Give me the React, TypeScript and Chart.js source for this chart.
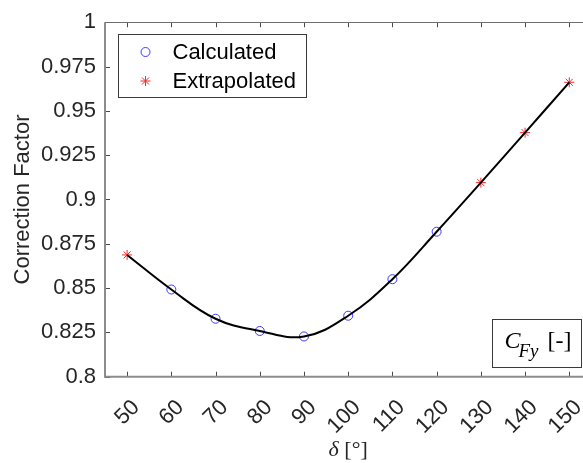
import React, { useEffect, useRef } from 'react';
import { Chart, registerables } from 'chart.js';

Chart.register(...registerables);

// ---- data ----
const xTickValues = [50, 60, 70, 80, 90, 100, 110, 120, 130, 140, 150];
const yTickValues = [0.8, 0.825, 0.85, 0.875, 0.9, 0.925, 0.95, 0.975, 1];
const calculatedDelta = [60, 70, 80, 90, 100, 110, 120];
const calculatedFactor = [0.8492, 0.8327, 0.8258, 0.8227, 0.8344, 0.855, 0.8818];
const extrapolatedDelta = [50, 130, 140, 150];
const extrapolatedFactor = [0.8687, 0.9095, 0.9377, 0.9661];
const legendLabels = ['Calculated', 'Extrapolated'];
const yTitle = 'Correction Factor';
const xTitleSymbol = 'δ';
const xTitleUnit = ' [°]';
const boxSymbol = 'C';
const boxSubscript = 'Fy';
const boxUnit = '[-]';

const SANS = '"Liberation Sans", Arial, Helvetica, sans-serif';
const SERIF = '"Liberation Serif", "Times New Roman", serif';

const drawCircle = (ctx: CanvasRenderingContext2D, x: number, y: number, r: number, color: string) => {
  ctx.beginPath();
  ctx.arc(x, y, r, 0, Math.PI * 2);
  ctx.strokeStyle = color;
  ctx.lineWidth = 1;
  ctx.stroke();
};

const drawStar = (ctx: CanvasRenderingContext2D, x: number, y: number, r: number, color: string) => {
  ctx.beginPath();
  ctx.strokeStyle = color;
  ctx.lineWidth = 1;
  for (let k = 0; k < 4; k++) {
    const ang = (k * Math.PI) / 4;
    ctx.moveTo(x - r * Math.cos(ang), y - r * Math.sin(ang));
    ctx.lineTo(x + r * Math.cos(ang), y + r * Math.sin(ang));
  }
  ctx.stroke();
};

const CIRCLE_COLOR = 'rgba(50,50,255,0.95)';
const STAR_COLOR = 'rgba(255,30,30,0.95)';

const decorPlugin = {
  id: 'decor',
  afterDraw(chart: any) {
    const { ctx, chartArea: a, scales } = chart;
    const xs = scales.x;
    const ys = scales.y;
    ctx.save();

    // ticks (inward)
    ctx.strokeStyle = '#4a4a4a';
    ctx.lineWidth = 1;
    ctx.beginPath();
    xTickValues.forEach((v) => {
      const px = Math.round(xs.getPixelForValue(v)) + 0.5;
      ctx.moveTo(px, a.bottom);
      ctx.lineTo(px, a.bottom - 5);
      ctx.moveTo(px, a.top);
      ctx.lineTo(px, a.top + 5);
    });
    yTickValues.forEach((v) => {
      const py = Math.round(ys.getPixelForValue(v)) + 0.5;
      ctx.moveTo(a.left, py);
      ctx.lineTo(a.left + 5, py);
      ctx.moveTo(a.right, py);
      ctx.lineTo(a.right - 5, py);
    });
    ctx.stroke();

    // axes frame
    ctx.strokeStyle = '#8c8c8c';
    ctx.lineWidth = 2;
    ctx.beginPath();
    ctx.moveTo(a.left, a.top);
    ctx.lineTo(a.left, a.bottom);
    ctx.lineTo(a.right, a.bottom);
    ctx.stroke();
    ctx.strokeStyle = '#6e6e6e';
    ctx.lineWidth = 1;
    ctx.beginPath();
    ctx.moveTo(a.left, Math.round(a.top) + 0.5);
    ctx.lineTo(a.right, Math.round(a.top) + 0.5);
    ctx.lineTo(a.right, a.bottom);
    ctx.stroke();

    // legend
    const lx = Math.round(a.left + 13) + 0.5;
    const ly = Math.round(a.top + 12) + 0.5;
    const lw = 188;
    const lh = 63;
    ctx.fillStyle = '#ffffff';
    ctx.fillRect(lx, ly, lw, lh);
    ctx.strokeStyle = '#3a3a3a';
    ctx.lineWidth = 1;
    ctx.strokeRect(lx, ly, lw, lh);
    const row1 = ly + 17.5;
    const row2 = ly + 46.5;
    drawCircle(ctx, lx + 27, row1, 4.5, CIRCLE_COLOR);
    drawStar(ctx, lx + 27, row2, 5, STAR_COLOR);
    ctx.fillStyle = '#000000';
    ctx.font = `22px ${SANS}`;
    ctx.textBaseline = 'middle';
    ctx.textAlign = 'left';
    ctx.fillText(legendLabels[0], lx + 54, row1 + 1);
    ctx.fillText(legendLabels[1], lx + 54, row2 + 1);

    // annotation box
    const bx = Math.round(a.left + 387) + 0.5;
    const by = Math.round(a.bottom - 58) + 0.5;
    ctx.fillStyle = '#ffffff';
    ctx.fillRect(bx, by, 89, 48);
    ctx.strokeStyle = '#3a3a3a';
    ctx.strokeRect(bx, by, 89, 48);
    ctx.fillStyle = '#000000';
    ctx.textBaseline = 'alphabetic';
    ctx.font = `italic 24px ${SERIF}`;
    ctx.fillText(boxSymbol, bx + 12, by + 28);
    ctx.font = `italic 19px ${SERIF}`;
    ctx.fillText(boxSubscript, bx + 26, by + 37.5);
    ctx.font = `24px ${SERIF}`;
    ctx.fillText(boxUnit, bx + 55, by + 28);

    // x title
    ctx.fillStyle = '#262626';
    const cx = xs.getPixelForValue(100);
    ctx.font = `italic 22px ${SERIF}`;
    const w1 = ctx.measureText(xTitleSymbol).width;
    ctx.font = `22px ${SERIF}`;
    const w2 = ctx.measureText(xTitleUnit).width;
    const startX = cx - (w1 + w2) / 2;
    const base = 456;
    ctx.font = `italic 22px ${SERIF}`;
    ctx.fillText(xTitleSymbol, startX, base);
    ctx.font = `22px ${SERIF}`;
    ctx.fillText(xTitleUnit, startX + w1, base);

    ctx.restore();
  },
};

const CANVAS_W = 640;

export default function App() {
  const ref = useRef<HTMLCanvasElement>(null);

  useEffect(() => {
    const calc = calculatedDelta.map((x, i) => ({ x, y: calculatedFactor[i] }));
    const extr = extrapolatedDelta.map((x, i) => ({ x, y: extrapolatedFactor[i] }));
    const fit = [...calc, ...extr].sort((p, q) => p.x - q.x);

    const chart = new Chart(ref.current as HTMLCanvasElement, {
      type: 'scatter',
      data: {
        datasets: [
          {
            label: 'fit',
            data: fit,
            showLine: true,
            borderColor: '#000000',
            borderWidth: 2,
            pointRadius: 0,
            tension: 0.4,
            order: 0,
          } as any,
          {
            label: legendLabels[0],
            data: calc,
            pointStyle: 'circle',
            pointRadius: 4.5,
            pointBorderWidth: 1,
            borderColor: CIRCLE_COLOR,
            backgroundColor: 'rgba(0,0,0,0)',
            order: 1,
          },
          {
            label: legendLabels[1],
            data: extr,
            pointStyle: 'star',
            pointRadius: 5,
            pointBorderWidth: 1,
            borderColor: STAR_COLOR,
            backgroundColor: STAR_COLOR,
            order: 1,
          },
        ],
      },
      options: {
        responsive: false,
        animation: false,
        devicePixelRatio: 1,
        events: [],
        layout: { padding: { top: 17.5, right: CANVAS_W - 591.4, left: 0, bottom: 0 } },
        plugins: { legend: { display: false }, tooltip: { enabled: false } },
        scales: {
          x: {
            type: 'linear',
            position: 'bottom',
            min: 45,
            max: 155,
            afterBuildTicks: (s: any) => {
              s.ticks = xTickValues.map((value) => ({ value }));
            },
            afterFit: (s: any) => {
              s.height = 86.3;
            },
            grid: { display: false, drawTicks: false },
            border: { display: false },
            ticks: {
              autoSkip: false,
              minRotation: 45,
              maxRotation: 45,
              padding: 18,
              labelOffset: 9,
              color: '#262626',
              font: { family: SANS, size: 22 },
              callback: (v: any) => String(v),
            },
          },
          y: {
            type: 'linear',
            min: 0.8,
            max: 1,
            afterBuildTicks: (s: any) => {
              s.ticks = yTickValues.map((value) => ({ value }));
            },
            afterFit: (s: any) => {
              s.width = 105;
            },
            grid: { display: false, drawTicks: false },
            border: { display: false },
            ticks: {
              padding: 9,
              color: '#262626',
              font: { family: SANS, size: 22 },
              callback: (v: any) => String(Number(Number(v).toFixed(3))),
            },
            title: {
              display: true,
              text: yTitle,
              color: '#262626',
              font: { family: SANS, size: 22, lineHeight: 1.2 },
              padding: { top: 10, bottom: 0 },
            },
          },
        },
      },
      plugins: [decorPlugin],
    });
    return () => chart.destroy();
  }, []);

  return (
    <div
      style={{
        position: 'fixed',
        left: 0,
        top: 0,
        width: 583,
        height: 463,
        overflow: 'hidden',
        background: '#ffffff',
      }}
    >
      <canvas ref={ref} width={CANVAS_W} height={463} style={{ display: 'block' }} />
    </div>
  );
}
